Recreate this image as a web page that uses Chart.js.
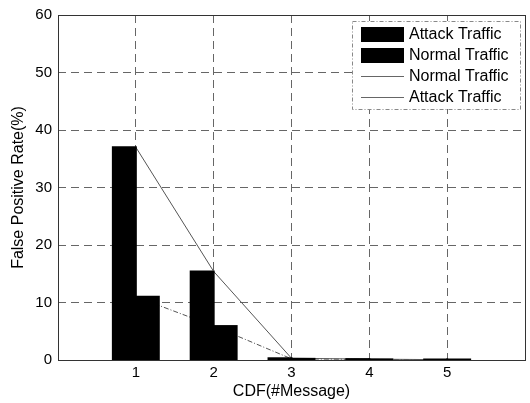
<!DOCTYPE html>
<html>
<head>
<meta charset="utf-8">
<script src="https://cdn.jsdelivr.net/npm/chart.js@4/dist/chart.umd.min.js"></script>
<style>
html,body{margin:0;padding:0;background:#fff;}
canvas{display:block;}
</style>
</head>
<body>
<canvas id="c" width="530" height="403"></canvas>
<script>
const categories = [1, 2, 3, 4, 5];
const attackBars = [37, 15.4, 0.3, 0.15, 0.05];
const normalBars = [11, 5.9, 0.2, 0.1, 0.03];
const attackLine = [37, 15.4, 0.3, 0.15, 0.05];
const normalLine = [11, 5.9, 0.2, 0.1, 0.03];
const xTicks = [1, 2, 3, 4, 5];
const yTicks = [0, 10, 20, 30, 40, 50, 60];
const legendLabels = ['Attack Traffic', 'Normal Traffic', 'Normal Traffic', 'Attack Traffic'];

const FONT = "'Liberation Sans', Arial, Helvetica, sans-serif";
const toXY = arr => categories.map((c, i) => ({x: c, y: arr[i]}));

const framePlugin = {
  id: 'frame',
  afterDatasetsDraw(chart) {
    const {ctx, chartArea: a} = chart;
    ctx.save();
    ctx.strokeStyle = '#333';
    ctx.lineWidth = 1;
    ctx.setLineDash([]);
    ctx.strokeRect(Math.round(a.left) + 0.5, Math.round(a.top) + 0.5,
                   Math.round(a.right - a.left), Math.round(a.bottom - a.top));
    ctx.restore();
  }
};

const legendPlugin = {
  id: 'customLegend',
  afterDraw(chart) {
    const ctx = chart.ctx;
    const x0 = 352, y0 = 21, w = 168, h = 88;
    ctx.save();
    ctx.fillStyle = '#fff';
    ctx.fillRect(x0, y0, w, h);
    ctx.strokeStyle = '#888';
    ctx.lineWidth = 1;
    ctx.setLineDash([4, 2, 1, 2]);
    ctx.strokeRect(x0 + 0.5, y0 + 0.5, w, h);
    ctx.setLineDash([]);
    const rows = [34, 55, 76, 97];
    ctx.font = '16px ' + FONT;
    ctx.textBaseline = 'middle';
    ctx.textAlign = 'left';
    rows.forEach((yc, i) => {
      if (i < 2) {
        ctx.fillStyle = '#000';
        ctx.fillRect(361, yc - 7, 43, 15);
      } else {
        ctx.strokeStyle = '#666';
        ctx.lineWidth = 1;
        ctx.beginPath();
        ctx.moveTo(361, yc + 0.5);
        ctx.lineTo(404, yc + 0.5);
        ctx.stroke();
      }
      ctx.fillStyle = '#000';
      ctx.fillText(legendLabels[i], 409, yc + 1);
    });
    ctx.restore();
  }
};

new Chart(document.getElementById('c'), {
  type: 'bar',
  data: {
    datasets: [
      {type: 'bar', label: 'Attack Traffic', data: toXY(attackBars), backgroundColor: '#000', borderWidth: 0, order: 0,
       categoryPercentage: 0.59, barPercentage: 1.0, inflateAmount: 1},
      {type: 'bar', label: 'Normal Traffic', data: toXY(normalBars), backgroundColor: '#000', borderWidth: 0, order: 0,
       categoryPercentage: 0.59, barPercentage: 1.0, inflateAmount: 1},
      {type: 'line', label: 'Normal Traffic', data: toXY(normalLine), borderColor: '#555', borderWidth: 1,
       borderDash: [5, 2, 1, 2], pointRadius: 0, fill: false, tension: 0, order: 1},
      {type: 'line', label: 'Attack Traffic', data: toXY(attackLine), borderColor: '#555', borderWidth: 1,
       pointRadius: 0, fill: false, tension: 0, order: 1}
    ]
  },
  options: {
    responsive: false,
    animation: false,
    devicePixelRatio: 1,
    layout: {padding: {left: 0, top: 14, right: 5, bottom: 0}},
    plugins: {legend: {display: false}, tooltip: {enabled: false}},
    scales: {
      x: {
        type: 'linear',
        min: 0, max: 6,
        offset: false,
        afterBuildTicks(scale) { scale.ticks = xTicks.map(v => ({value: v})); },
        afterFit(scale) { scale.height = 43; },
        grid: {color: '#666', lineWidth: 1, drawTicks: false, offset: false},
        border: {display: false, dash: [8, 5]},
        ticks: {color: '#000', font: {family: FONT, size: 15}, padding: 4, maxRotation: 0},
        title: {display: true, text: 'CDF(#Message)', color: '#000', font: {family: FONT, size: 16},
                padding: {top: 0, bottom: 2}}
      },
      y: {
        type: 'linear',
        min: 0, max: 60,
        afterBuildTicks(scale) { scale.ticks = yTicks.map(v => ({value: v})); },
        afterFit(scale) { scale.width = 58; },
        grid: {color: '#666', lineWidth: 1, drawTicks: false},
        border: {display: false, dash: [8, 5]},
        ticks: {color: '#000', font: {family: FONT, size: 15}, padding: 6},
        title: {display: true, text: 'False Positive Rate(%)', color: '#000', font: {family: FONT, size: 16},
                padding: {top: 9, bottom: 0}}
      }
    }
  },
  plugins: [framePlugin, legendPlugin]
});
</script>
</body>
</html>
